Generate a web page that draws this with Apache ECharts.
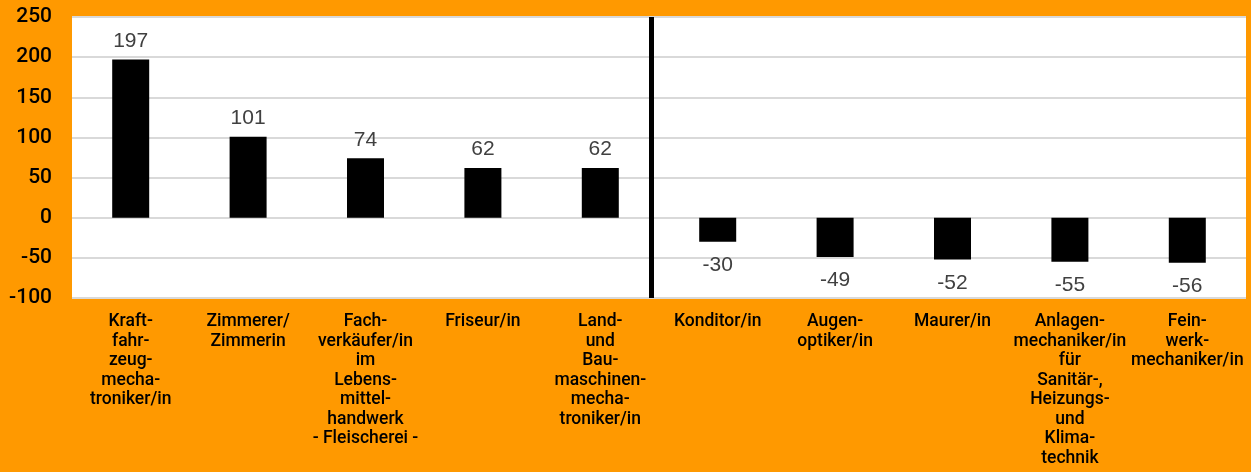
<!DOCTYPE html>
<html>
<head>
<meta charset="utf-8">
<script src="https://cdn.jsdelivr.net/npm/echarts@6/dist/echarts.min.js"></script>
<style>
html,body{margin:0;padding:0;background:#FF9900;}
#c{width:1251px;height:472px;}
</style>
</head>
<body>
<div id="c"></div>
<script>
const categories = [
  "Kraft-\nfahr-\nzeug-\nmecha-\ntroniker/in",
  "Zimmerer/\nZimmerin",
  "Fach-\nverkäufer/in\nim\nLebens-\nmittel-\nhandwerk\n- Fleischerei -",
  "Friseur/in",
  "Land-\nund\nBau-\nmaschinen-\nmecha-\ntroniker/in",
  "Konditor/in",
  "Augen-\noptiker/in",
  "Maurer/in",
  "Anlagen-\nmechaniker/in\nfür\nSanitär-,\nHeizungs-\nund\nKlima-\ntechnik",
  "Fein-\nwerk-\nmechaniker/in"
];
const values = [197, 101, 74, 62, 62, -30, -49, -52, -55, -56];
const yMin = -100, yMax = 250, yStep = 50;
const dividerPosition = 4.93; // separator between growth and decline groups (in category-width units)

const chart = echarts.init(document.getElementById('c'));
const catFont = 'Roboto, "Liberation Sans", sans-serif';
const barData = values.map(v => ({
  value: v,
  label: { distance: v < 0 ? 13 : 8 }
}));
chart.setOption({
  backgroundColor: '#FF9900',
  animation: false,
  grid: {
    left: 72, right: 5, top: 17, bottom: 174,
    show: true, backgroundColor: '#ffffff', borderWidth: 0
  },
  xAxis: [{
    type: 'category',
    data: categories,
    axisLine: { show: false },
    axisTick: { show: false },
    axisLabel: {
      interval: 0,
      color: '#000',
      fontFamily: catFont,
      fontWeight: 500,
      fontSize: 17.5,
      lineHeight: 19.5,
      margin: 14,
      align: 'center'
    }
  }, {
    type: 'value',
    min: 0, max: categories.length,
    show: false
  }],
  yAxis: {
    type: 'value',
    min: yMin, max: yMax, interval: yStep,
    axisLine: { show: false },
    axisTick: { show: false },
    splitLine: { lineStyle: { color: '#d9d9d9', width: 2 } },
    axisLabel: {
      color: '#000',
      fontFamily: catFont,
      fontWeight: 500,
      fontSize: 21,
      margin: 20
    }
  },
  series: [{
    type: 'bar',
    data: barData,
    barWidth: 37,
    itemStyle: { color: '#000000' },
    label: {
      show: true,
      position: 'outside',
      color: '#404040',
      fontFamily: '"Liberation Sans", Arial, sans-serif',
      fontSize: 21
    }
  }, {
    type: 'scatter',
    xAxisIndex: 1,
    data: [],
    silent: true,
    markLine: {
      silent: true,
      symbol: 'none',
      label: { show: false },
      lineStyle: { color: '#000', width: 5, type: 'solid' },
      data: [{ xAxis: dividerPosition }]
    }
  }]
});
</script>
</body>
</html>
